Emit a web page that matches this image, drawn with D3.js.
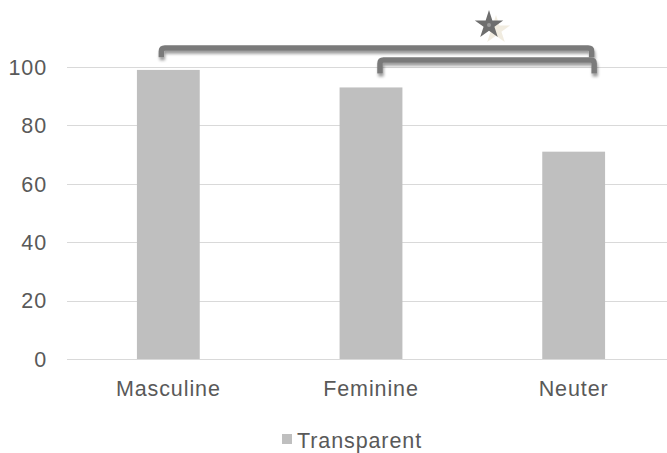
<!DOCTYPE html>
<html>
<head>
<meta charset="utf-8">
<script src="https://cdn.jsdelivr.net/npm/d3@7/dist/d3.min.js"></script>
<style>
  html, body { margin: 0; padding: 0; background: #fff; }
  svg { display: block; font-family: "Liberation Sans", Arial, sans-serif; }
</style>
</head>
<body>
<svg id="chart" width="667" height="453"></svg>
<script>
const categories = ["Masculine", "Feminine", "Neuter"];
const values = [99, 93, 71];
const yTicks = [0, 20, 40, 60, 80, 100];
const seriesName = "Transparent";
// significance brackets: category index at each end, top value, leg-end value
const bracketFrom = [0, 1];
const bracketTo = [2, 2];
const bracketTop = [106.5, 102.4];
const bracketLeg = [103.3, 97.8];

const svg = d3.select("#chart");
const W = 667;
const plotLeft = 67, plotRight = 675, plotTop = 67, plotBottom = 359;
const fontSize = 21.5, letterSp = 0.9, textColor = "#595959";

const x = d3.scaleBand().domain(categories).range([plotLeft, plotRight]).padding(0);
const y = d3.scaleLinear().domain([0, 100]).range([plotBottom, plotTop]);
const barW = x.bandwidth() * 0.31;
const cx = i => x(categories[i]) + x.bandwidth() / 2;

const defs = svg.append("defs");
const sh = defs.append("filter").attr("id", "shadow")
  .attr("x", "-10%").attr("y", "-60%").attr("width", "120%").attr("height", "260%");
sh.append("feGaussianBlur").attr("in", "SourceAlpha").attr("stdDeviation", 1.8).attr("result", "b");
sh.append("feOffset").attr("in", "b").attr("dx", 1).attr("dy", 3).attr("result", "o");
sh.append("feComponentTransfer").attr("in", "o").attr("result", "oa")
  .append("feFuncA").attr("type", "linear").attr("slope", 0.4);
const m = sh.append("feMerge");
m.append("feMergeNode").attr("in", "oa");
m.append("feMergeNode").attr("in", "SourceGraphic");

// gridlines
svg.append("g").selectAll("line").data(yTicks).join("line")
  .attr("x1", plotLeft).attr("x2", W)
  .attr("y1", d => Math.round(y(d)) + 0.5).attr("y2", d => Math.round(y(d)) + 0.5)
  .attr("stroke", "#d9d9d9").attr("stroke-width", 1);

// y tick labels
svg.append("g").selectAll("text").data(yTicks).join("text")
  .attr("x", 47).attr("y", d => y(d)).attr("dy", "0.36em")
  .attr("text-anchor", "end").attr("fill", textColor)
  .attr("font-size", fontSize).attr("letter-spacing", letterSp)
  .text(d => d);

// bars
svg.append("g").selectAll("rect").data(values).join("rect")
  .attr("x", (d, i) => cx(i) - barW / 2)
  .attr("y", d => y(d)).attr("width", barW)
  .attr("height", d => y(0) - y(d))
  .attr("fill", "#bfbfbf");

// category labels
svg.append("g").selectAll("text").data(categories).join("text")
  .attr("x", (d, i) => cx(i)).attr("y", 396)
  .attr("text-anchor", "middle").attr("fill", textColor)
  .attr("font-size", fontSize).attr("letter-spacing", letterSp)
  .text(d => d);

// brackets
const leftOff = [-7, 9];
const rightOff = [18, 20.5];
const bracketData = bracketFrom.map((f, i) => ({
  x1: cx(f) + leftOff[i],
  x2: cx(bracketTo[i]) + rightOff[i],
  top: bracketTop[i], leg: bracketLeg[i]
}));
svg.append("g").attr("filter", "url(#shadow)").selectAll("path").data(bracketData).join("path")
  .attr("d", d => {
    const r = 3.5;
    const yt = y(d.top), yl = y(d.leg);
    return `M${d.x1},${yl} L${d.x1},${yt + r} Q${d.x1},${yt} ${d.x1 + r},${yt} ` +
           `L${d.x2 - r},${yt} Q${d.x2},${yt} ${d.x2},${yt + r} L${d.x2},${yl}`;
  })
  .attr("fill", "none").attr("stroke", "#7a7a7a").attr("stroke-width", 5.5)
  .attr("stroke-linecap", "butt");

// significance star
const starPath = d3.symbol().type(d3.symbolStar).size(250)();
svg.append("path").attr("d", starPath)
  .attr("transform", "translate(496,30)").attr("fill", "#eee9da").attr("opacity", 0.85);
svg.append("path").attr("d", starPath)
  .attr("transform", "translate(489,25)").attr("fill", "#6e6e6e");
svg.append("circle").attr("cx", 489).attr("cy", 25).attr("r", 2).attr("fill", "#9a9a9a");

// legend
svg.append("rect").attr("x", 282).attr("y", 434).attr("width", 10).attr("height", 10).attr("fill", "#bfbfbf");
svg.append("text").attr("x", 297).attr("y", 448).attr("fill", textColor)
  .attr("font-size", fontSize).attr("letter-spacing", letterSp)
  .text(seriesName);
</script>
</body>
</html>
